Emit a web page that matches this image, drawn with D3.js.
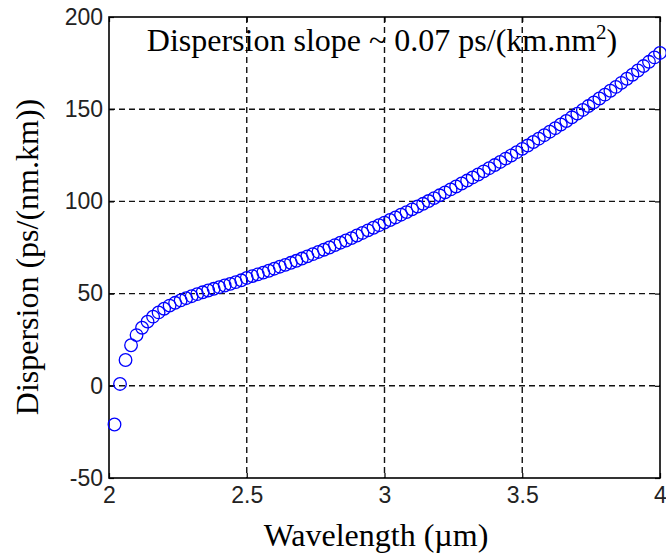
<!DOCTYPE html>
<meta charset="utf-8">
<script src="https://cdn.jsdelivr.net/npm/d3@7"></script>
<style>
  body { margin: 0; background: #fff; }
</style>
<div id="my_dataviz"></div>
<script>

// data
var wavelength = [
  2.02, 2.04, 2.06, 2.08, 2.10, 2.12, 2.14, 2.16, 2.18, 2.20,
  2.22, 2.24, 2.26, 2.28, 2.30, 2.32, 2.34, 2.36, 2.38, 2.40,
  2.42, 2.44, 2.46, 2.48, 2.50, 2.52, 2.54, 2.56, 2.58, 2.60,
  2.62, 2.64, 2.66, 2.68, 2.70, 2.72, 2.74, 2.76, 2.78, 2.80,
  2.82, 2.84, 2.86, 2.88, 2.90, 2.92, 2.94, 2.96, 2.98, 3.00,
  3.02, 3.04, 3.06, 3.08, 3.10, 3.12, 3.14, 3.16, 3.18, 3.20,
  3.22, 3.24, 3.26, 3.28, 3.30, 3.32, 3.34, 3.36, 3.38, 3.40,
  3.42, 3.44, 3.46, 3.48, 3.50, 3.52, 3.54, 3.56, 3.58, 3.60,
  3.62, 3.64, 3.66, 3.68, 3.70, 3.72, 3.74, 3.76, 3.78, 3.80,
  3.82, 3.84, 3.86, 3.88, 3.90, 3.92, 3.94, 3.96, 3.98, 4.00
];
var dispersion = [
  -21, 1, 14, 22, 27.5, 31.5, 34.8, 37.5, 39.8, 41.8,
  43.5, 45, 46.3, 47.5, 48.6, 49.7, 50.7, 51.7, 52.6, 53.5,
  54.4, 55.3, 56.2, 57.2, 58.5, 59.5, 60.4, 61.4, 62.4, 63.5,
  64.6, 65.6, 66.7, 67.8, 69.0, 70.2, 71.4, 72.6, 73.8, 75.0,
  76.3, 77.6, 78.8, 80.1, 81.5, 82.9, 84.3, 85.7, 87.1, 88.5,
  89.9, 91.3, 92.8, 94.2, 95.7, 97.2, 98.7, 100.2, 101.8, 103.3,
  104.9, 106.5, 108.1, 109.7, 111.3, 113.0, 114.6, 116.3, 118.0, 119.7,
  121.4, 123.2, 124.9, 126.7, 128.5, 130.3, 132.2, 134.0, 135.9, 137.8,
  139.7, 141.7, 143.6, 145.6, 147.6, 149.6, 151.7, 153.7, 155.8, 157.9,
  160.0, 162.1, 164.3, 166.5, 168.7, 171.0, 173.4, 175.7, 178.1, 180.5
];
var xTicks = [2, 2.5, 3, 3.5, 4];
var yTicks = [-50, 0, 50, 100, 150, 200];

// set the dimensions and margins of the graph
var margin = {top: 17, right: 6, bottom: 75, left: 109},
    width = 666 - margin.left - margin.right,
    height = 553 - margin.top - margin.bottom;

var svg = d3.select("#my_dataviz")
  .append("svg")
    .attr("width", width + margin.left + margin.right)
    .attr("height", height + margin.top + margin.bottom)
  .append("g")
    .attr("transform", "translate(" + margin.left + "," + margin.top + ")");

var x = d3.scaleLinear().domain([2, 4]).range([0, width]);
var y = d3.scaleLinear().domain([-50, 200]).range([height, 0]);

// dashed grid
svg.append("g").selectAll("line")
  .data(xTicks.slice(1, -1))
  .enter().append("line")
    .attr("x1", function(d) { return x(d); })
    .attr("x2", function(d) { return x(d); })
    .attr("y1", 0).attr("y2", height)
    .attr("stroke", "#111").attr("stroke-width", 1.4)
    .attr("stroke-dasharray", "6,4");
svg.append("g").selectAll("line")
  .data(yTicks.slice(1, -1))
  .enter().append("line")
    .attr("y1", function(d) { return y(d); })
    .attr("y2", function(d) { return y(d); })
    .attr("x1", 0).attr("x2", width)
    .attr("stroke", "#111").attr("stroke-width", 1.4)
    .attr("stroke-dasharray", "6,4");

// axes
svg.append("g")
  .attr("transform", "translate(0," + height + ")")
  .call(d3.axisBottom(x).tickValues(xTicks).tickSize(-5).tickSizeOuter(0)
        .tickPadding(9).tickFormat(function(d) { return String(d); }));
svg.append("g")
  .call(d3.axisLeft(y).tickValues(yTicks).tickSize(-5).tickSizeOuter(0)
        .tickPadding(6).tickFormat(function(d) { return String(d); }));
svg.append("g")
  .call(d3.axisTop(x).tickValues(xTicks).tickSize(-5).tickSizeOuter(0).tickFormat(""));
svg.append("g")
  .attr("transform", "translate(" + width + ",0)")
  .call(d3.axisRight(y).tickValues(yTicks).tickSize(-5).tickSizeOuter(0).tickFormat(""));

svg.selectAll(".domain").remove();
svg.selectAll(".tick line").attr("stroke", "#000").attr("stroke-width", 1.2);
svg.selectAll(".tick text")
  .style("font-family", "'Liberation Sans', Arial, sans-serif")
  .style("font-size", "23px")
  .attr("fill", "#222");

// frame
svg.append("rect")
  .attr("x", 0).attr("y", 0)
  .attr("width", width).attr("height", height)
  .attr("fill", "none").attr("stroke", "#000").attr("stroke-width", 1.6);

// markers
svg.append("g").selectAll("circle")
  .data(wavelength)
  .enter().append("circle")
    .attr("cx", function(d) { return x(d); })
    .attr("cy", function(d, i) { return y(dispersion[i]); })
    .attr("r", 6.3)
    .attr("fill", "none")
    .attr("stroke", "#0000ff")
    .attr("stroke-width", 1.3);

// labels
var serif = "'Liberation Serif', 'Times New Roman', serif";
svg.append("text")
  .attr("x", 376 - margin.left).attr("y", height + 68)
  .attr("text-anchor", "middle")
  .style("font-family", serif).style("font-size", "32px")
  .text("Wavelength (\u00b5m)");

svg.append("text")
  .attr("transform", "translate(" + (38 - margin.left) + "," + (257 - margin.top) + ")rotate(-90)")
  .attr("text-anchor", "middle")
  .style("font-family", serif).style("font-size", "32px")
  .text("Dispersion (ps/(nm.km))");

var note = svg.append("text")
  .attr("x", 382 - margin.left).attr("y", 34)
  .attr("text-anchor", "middle")
  .style("font-family", serif).style("font-size", "32px");
note.append("tspan").text("Dispersion slope ~ 0.07 ps/(km.nm");
note.append("tspan").attr("dy", -12).style("font-size", "21px").text("2");
note.append("tspan").attr("dy", 12).text(")");

</script>
